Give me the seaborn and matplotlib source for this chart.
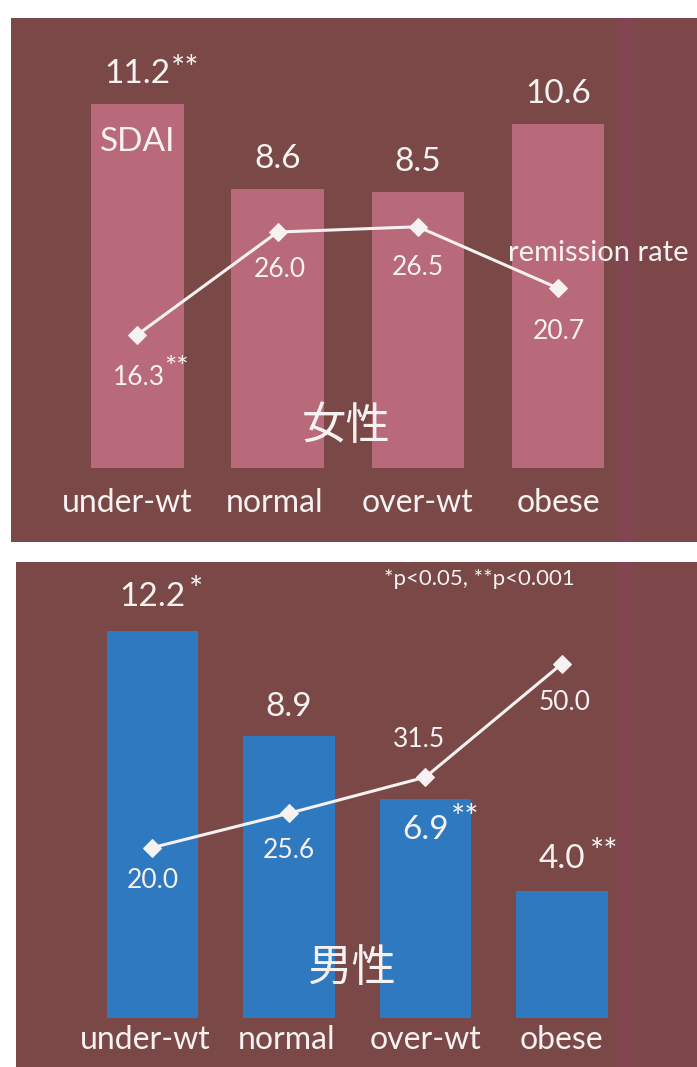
import numpy as np
import pandas as pd
import matplotlib
matplotlib.use("Agg")
import matplotlib.pyplot as plt
from matplotlib.patches import Rectangle
import seaborn as sns

# ---- data -------------------------------------------------------------
categories = ["under-wt", "normal", "over-wt", "obese"]

female_sdai = [11.2, 8.6, 8.5, 10.6]
female_remission = [16.3, 26.0, 26.5, 20.7]
female_sdai_sig = ["**", "", "", ""]
female_remission_sig = ["**", "", "", ""]

male_sdai = [12.2, 8.9, 6.9, 4.0]
male_remission = [20.0, 25.6, 31.5, 50.0]
male_sdai_sig = ["*", "", "**", "**"]
male_remission_sig = ["", "", "", ""]

female_title = "女性"
male_title = "男性"
sdai_name = "SDAI"
remission_name = "remission rate"
sig_note = "*p<0.05, **p<0.001"

# ---- style ------------------------------------------------------------
W, H = 697, 1067
BG = "#7b4848"
BAND = "#9a3f6c"
PINK = "#b8697a"
BLUE = "#2f79c0"
WHITE = "#f7f2f2"

sns.set_theme(style="white")
plt.rcParams["font.family"] = ["Lato", "Noto Sans CJK JP", "DejaVu Sans"]

fig = plt.figure(figsize=(W / 100, H / 100), dpi=100)
fig.patch.set_facecolor("white")


def px_rect(x0, y0, x1, y1):
    return [x0 / W, 1 - y1 / H, (x1 - x0) / W, (y1 - y0) / H]


def draw_panel(rect, sdai, rate, sdai_sig, rate_sig, color, title, st):
    ax = fig.add_axes(rect)
    ax.set_facecolor(BG)
    df = pd.DataFrame({"group": categories, "sdai": sdai})
    sns.barplot(data=df, x="group", y="sdai", order=categories, color=color,
                saturation=1, width=st["bar_w"], ax=ax, zorder=2,
                linewidth=0, edgecolor="none")

    # soft magenta streak on the right side of the panel
    x0 = st["band_x"]
    for k, a in enumerate([0.10, 0.20, 0.28, 0.20, 0.10]):
        ax.add_patch(Rectangle((x0 + k * 0.008, 0), 0.008, 1, transform=ax.transAxes,
                               color=BAND, alpha=a, lw=0, zorder=0.5))
    ax.add_patch(Rectangle((x0 + 0.04, 0), 1, 1, transform=ax.transAxes,
                           color=BAND, alpha=0.07, lw=0, zorder=0.5))

    ax2 = ax.twinx()
    sns.lineplot(x=np.arange(len(categories)), y=rate, ax=ax2, color=WHITE,
                 lw=2.2, marker="D", markersize=9, markeredgecolor=WHITE,
                 sort=False, zorder=3)

    ax.set_xlim(st["xlim"])
    ax.set_ylim(st["ylim"])
    ax2.set_ylim(st["ylim_rate"])
    for a in (ax, ax2):
        for s in a.spines.values():
            s.set_visible(False)
        a.set_xticks([])
        a.set_yticks([])
        a.set_xlabel("")
        a.set_ylabel("")

    # SDAI values over (or inside) the bars
    for i, (v, s) in enumerate(zip(sdai, sdai_sig)):
        ax.annotate(f"{v:.1f}", (i, v), xytext=(0, st["val_dy"][i]),
                    textcoords="offset pixels", ha="center", va="center",
                    fontsize=24, color=WHITE, zorder=4)
        if s:
            dx, dy = st["val_star"][i]
            ax.annotate(s, (i, v), xytext=(dx, dy), textcoords="offset pixels",
                        ha="left", va="center", fontsize=24, color=WHITE, zorder=4)

    # remission-rate values next to the markers
    for i, (r, s) in enumerate(zip(rate, rate_sig)):
        dx, dy = st["rate_off"][i]
        ax2.annotate(f"{r:.1f}", (i, r), xytext=(dx, dy),
                     textcoords="offset pixels", ha="center", va="center",
                     fontsize=19, color=WHITE, zorder=4)
        if s:
            sx, sy = st["rate_star"][i]
            ax2.annotate(s, (i, r), xytext=(sx, sy), textcoords="offset pixels",
                         ha="left", va="center", fontsize=21, color=WHITE, zorder=4)

    # category names along the bottom
    for i, c in enumerate(categories):
        ax.text(i + st["lab_dx"][i], st["lab_y"], c, ha="center", va="center",
                fontsize=23, color=WHITE, zorder=4)

    ax.text(st["title_xy"][0], st["title_xy"][1], title, transform=ax.transAxes,
            ha="center", va="center", fontsize=32, color=WHITE,
            family=["Noto Sans CJK JP", "DejaVu Sans"], zorder=4)
    return ax, ax2


# female panel
top_style = dict(
    bar_w=0.66, xlim=(-0.90, 3.99), ylim=(-2.28, 13.85), ylim_rate=(-3.25, 46.2),
    band_x=0.878,
    val_dy=[30, 30, 30, 30],
    val_star=[(34, 34), (0, 0), (0, 0), (0, 0)],
    rate_off=[(2, -43), (2, -37), (0, -41), (1, -43)],
    rate_star=[(27, -34), (0, 0), (0, 0), (0, 0)],
    lab_dx=[-0.07, -0.02, 0.0, 0.0], lab_y=-1.08,
    title_xy=(0.488, 0.222),
)
ax_f, ax_f2 = draw_panel(px_rect(11, 18, 697, 542), female_sdai, female_remission,
                         female_sdai_sig, female_remission_sig, PINK, female_title,
                         top_style)
ax_f.annotate(sdai_name, (0, female_sdai[0]), xytext=(0, -38),
              textcoords="offset pixels", ha="center", va="center",
              fontsize=24, color=WHITE, zorder=4)
ax_f2.annotate(remission_name, (3, female_remission[3]), xytext=(40, 35),
               textcoords="offset pixels", ha="center", va="center",
               fontsize=21, color=WHITE, zorder=4)

# male panel
bot_style = dict(
    bar_w=0.67, xlim=(-1.0, 3.99), ylim=(-1.55, 14.38), ylim_rate=(-15.8, 66.6),
    band_x=0.876,
    val_dy=[34, 29, -31, 32],
    val_star=[(36, 40), (0, 0), (26, -20), (28, 38)],
    rate_off=[(0, -33), (0, -37), (-6, 38), (3, -39)],
    rate_star=[(0, 0), (0, 0), (0, 0), (0, 0)],
    lab_dx=[-0.05, -0.02, 0.0, 0.0], lab_y=-0.69,
    title_xy=(0.493, 0.196),
)
ax_m, ax_m2 = draw_panel(px_rect(16, 562, 697, 1067), male_sdai, male_remission,
                         male_sdai_sig, male_remission_sig, BLUE, male_title,
                         bot_style)
ax_m.text(0.68, 0.966, sig_note, transform=ax_m.transAxes, ha="center",
          va="center", fontsize=16, color=WHITE, zorder=4)

fig.savefig("out.png", dpi=100, facecolor="white")
